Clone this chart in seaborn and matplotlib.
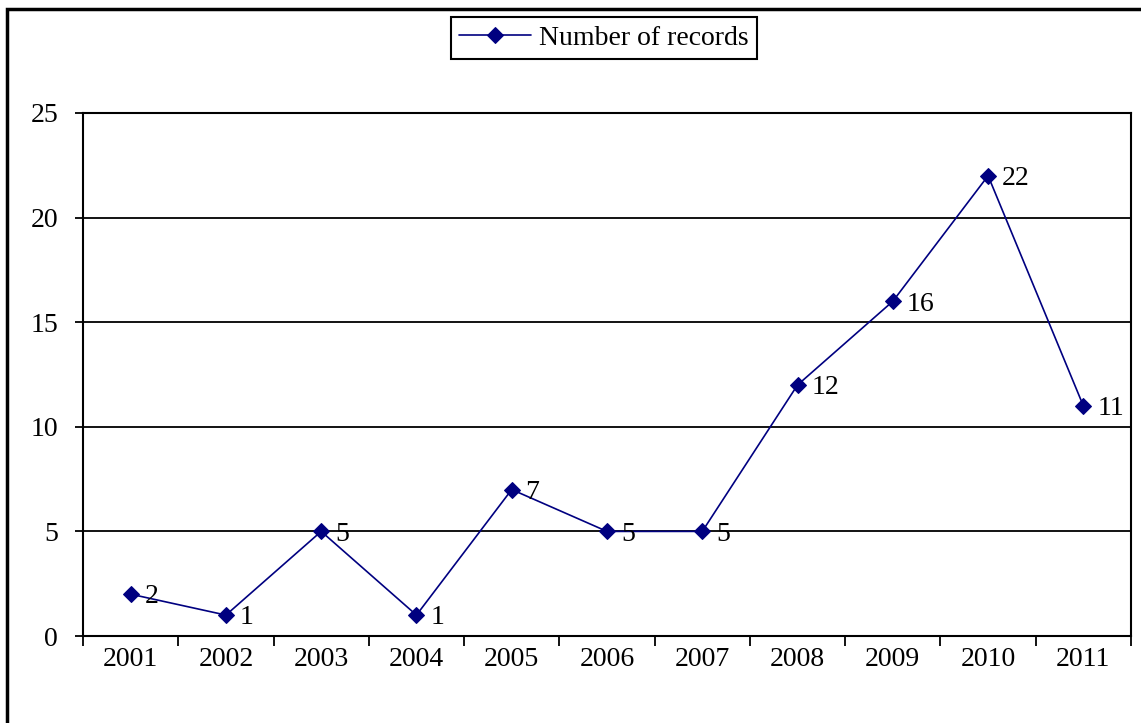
import numpy as np
import pandas as pd
import seaborn as sns
import matplotlib.pyplot as plt
from matplotlib.patches import Rectangle

years = ['2001', '2002', '2003', '2004', '2005', '2006', '2007', '2008', '2009', '2010', '2011']
records = [2, 1, 5, 1, 7, 5, 5, 12, 16, 22, 11]
y_ticks = [0, 5, 10, 15, 20, 25]

sns.set_style('white')
plt.rcParams['font.family'] = ['Liberation Serif', 'DejaVu Serif']
plt.rcParams['text.color'] = 'black'
plt.rcParams['xtick.color'] = 'black'
plt.rcParams['ytick.color'] = 'black'

data = pd.DataFrame({'pos': np.arange(len(years)), 'year': years, 'records': records})

fig = plt.figure(figsize=(11.41, 7.23), dpi=100)
ax = fig.add_axes([83 / 1141, 87 / 723, 1048 / 1141, 523 / 723])

sns.lineplot(data=data, x='pos', y='records', ax=ax, color='#000080', marker='D',
             markersize=8, markeredgecolor='#000080', linewidth=1.2,
             label='Number of records', zorder=3)

for x, v in zip(data['pos'], data['records']):
    ax.annotate(str(v), (x, v), xytext=(10, -2), textcoords='offset points',
                ha='left', va='center', fontsize=20, color='black', zorder=4)

ax.set_xlim(-0.5, len(years) - 0.5)
ax.set_ylim(0, 25)
ax.set_yticks(y_ticks)
ax.set_yticklabels([str(t) for t in y_ticks], fontsize=20)
ax.set_xticks(np.arange(-0.5, len(years), 1.0))
ax.set_xticklabels([])
ax.set_xticks(data['pos'], minor=True)
ax.set_xticklabels(years, minor=True, fontsize=20)
ax.tick_params(axis='x', which='major', bottom=True, direction='out', length=7, width=1.3)
ax.tick_params(axis='x', which='minor', bottom=True, length=0, pad=8)
ax.tick_params(axis='y', left=True, direction='out', length=6, width=1.3, pad=12)
ax.set_xlabel('')
ax.set_ylabel('')

for yv in y_ticks[1:]:
    ax.axhline(yv, color='black', linewidth=1.3, zorder=1)
for s in ax.spines.values():
    s.set_color('black')
    s.set_linewidth(1.5)

leg = ax.legend(loc='center', bbox_to_anchor=(604 / 1141, 1 - 38 / 723),
                bbox_transform=fig.transFigure, fontsize=20, frameon=True,
                fancybox=False, edgecolor='black', handlelength=2.6,
                borderpad=0.3, handletextpad=0.3)
leg.get_frame().set_linewidth(1.5)
leg.get_frame().set_alpha(1)

fig.patches.append(Rectangle((7 / 1141, -0.05), 1.1, 1.05 - 9 / 723, transform=fig.transFigure,
                             fill=False, edgecolor='black', linewidth=2.5))

fig.savefig('out.png', dpi=100)
